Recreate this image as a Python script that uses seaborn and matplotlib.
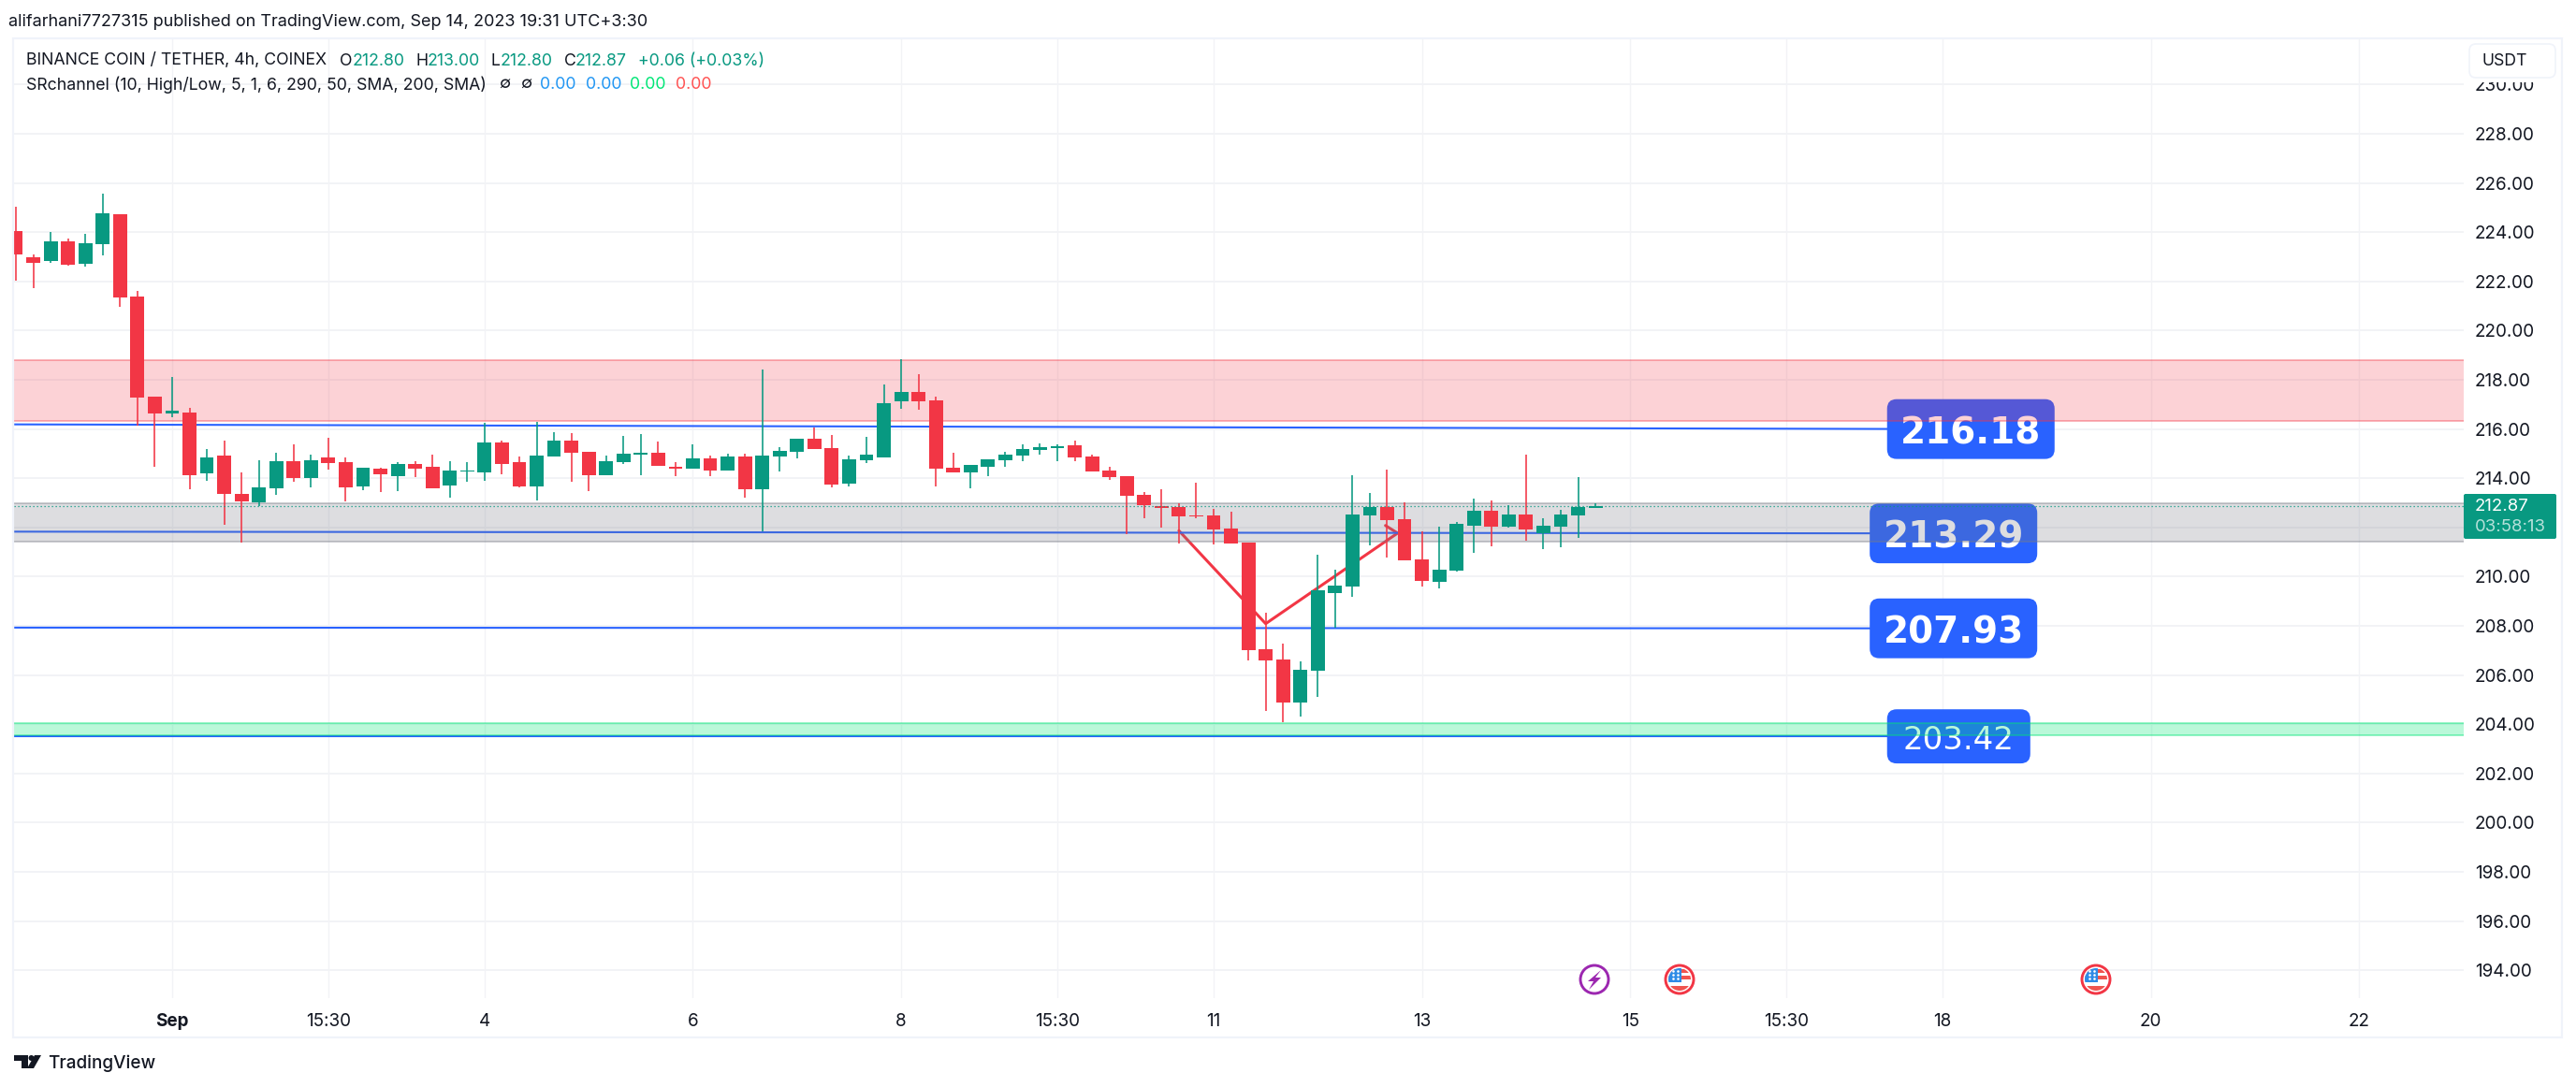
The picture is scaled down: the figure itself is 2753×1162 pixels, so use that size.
import numpy as np
import seaborn as sns
import matplotlib.pyplot as plt
from matplotlib.patches import Circle, FancyBboxPatch, Polygon, Rectangle

# candles, one per 4h bar
candle_open = [224.05, 222.98, 222.83, 223.63, 222.71, 223.51, 224.74, 221.39, 217.32, 216.63,
               216.67, 214.20, 214.92, 213.36, 213.02, 213.59, 214.69, 214.01, 214.85, 214.65,
               213.67, 214.39, 214.08, 214.58, 214.46, 213.70, 214.27, 214.24, 215.45, 214.65,
               213.67, 214.88, 215.53, 215.07, 214.12, 214.65, 214.96, 215.03, 214.46, 214.39,
               214.81, 214.31, 214.88, 213.55, 214.88, 215.07, 215.61, 215.23, 213.78, 214.73,
               214.85, 217.13, 217.51, 217.16, 214.43, 214.24, 214.46, 214.73, 214.92, 215.15,
               215.22, 215.34, 214.88, 214.31, 214.08, 213.32, 212.87, 212.83, 212.49, 212.49,
               211.96, 211.39, 207.05, 206.63, 204.89, 206.18, 209.33, 209.60, 212.49, 212.83,
               212.34, 210.70, 209.79, 210.25, 212.07, 212.68, 212.03, 212.53, 211.77, 212.03,
               212.49, 212.80]
candle_high = [225.03, 223.08, 224.01, 223.73, 223.92, 225.57, 224.74, 221.61, 217.32, 218.13,
               216.86, 215.19, 215.53, 214.24, 214.73, 215.03, 215.38, 214.96, 215.64, 214.85,
               214.43, 214.43, 214.65, 214.69, 214.96, 214.69, 214.65, 216.25, 215.53, 214.88,
               216.29, 215.87, 215.83, 215.07, 214.92, 215.72, 215.80, 215.49, 214.65, 215.38,
               214.92, 215.00, 215.00, 218.42, 215.26, 215.61, 216.06, 215.76, 214.92, 215.68,
               217.81, 218.84, 218.23, 217.32, 215.03, 214.54, 214.77, 215.07, 215.38, 215.41,
               215.38, 215.53, 214.96, 214.46, 214.08, 213.44, 213.55, 212.98, 213.82, 212.75,
               212.64, 211.39, 208.54, 207.28, 206.56, 210.89, 210.29, 214.13, 213.40, 214.35,
               213.02, 211.84, 212.03, 212.22, 213.17, 213.10, 212.91, 214.96, 212.38, 212.72,
               214.05, 213.00]
candle_low = [222.04, 221.72, 222.76, 222.65, 222.60, 223.06, 220.97, 216.15, 214.46, 216.48,
              213.55, 213.89, 212.11, 211.38, 212.87, 213.32, 213.86, 213.63, 214.35, 213.06,
              213.51, 213.44, 213.48, 214.05, 213.59, 213.21, 213.86, 213.89, 214.16, 213.63,
              213.10, 214.88, 213.86, 213.48, 214.12, 214.58, 214.12, 214.50, 214.08, 214.39,
              214.08, 214.31, 213.21, 211.84, 214.27, 214.81, 215.19, 213.63, 213.67, 214.62,
              214.85, 216.82, 216.78, 213.67, 214.24, 213.59, 214.08, 214.46, 214.69, 214.96,
              214.69, 214.69, 214.27, 213.93, 211.73, 212.37, 211.99, 211.35, 212.37, 211.31,
              211.35, 206.60, 204.54, 204.09, 204.32, 205.11, 207.93, 209.18, 211.27, 210.78,
              210.67, 209.60, 209.52, 210.21, 210.97, 211.24, 212.00, 211.46, 211.12, 211.20,
              211.58, 212.80]
candle_close = [223.08, 222.76, 223.63, 222.67, 223.56, 224.76, 221.36, 217.28, 216.63, 216.75,
                214.12, 214.85, 213.36, 213.06, 213.63, 214.69, 214.01, 214.73, 214.62, 213.63,
                214.43, 214.16, 214.58, 214.39, 213.59, 214.31, 214.31, 215.45, 214.58, 213.67,
                214.92, 215.53, 215.03, 214.12, 214.69, 215.00, 215.03, 214.50, 214.39, 214.81,
                214.31, 214.88, 213.55, 214.92, 215.11, 215.61, 215.19, 213.74, 214.77, 214.96,
                217.05, 217.51, 217.13, 214.39, 214.24, 214.54, 214.77, 214.96, 215.19, 215.26,
                215.30, 214.85, 214.27, 214.05, 213.29, 212.91, 212.79, 212.45, 212.45, 211.92,
                211.35, 207.01, 206.60, 204.89, 206.22, 209.45, 209.64, 212.53, 212.83, 212.30,
                210.67, 209.83, 210.29, 212.15, 212.68, 212.03, 212.53, 211.92, 212.07, 212.53,
                212.83, 212.87]

# drawn zones (low, high)
red_zone = (216.33, 218.80)
gray_zone = (211.42, 212.98)
green_zone = (203.57, 204.04)

# sr lines: left value, value at the label, label text
sr_left = [216.19, 211.83, 207.93, 203.51]
sr_right = [216.00, 211.76, 207.90, 203.51]
sr_labels = ['216.18', '213.29', '207.93', '203.42']

# hand drawn zigzag
zig_x = [67, 72, 79.6, 78.9]
zig_y = [211.87, 208.09, 211.77, 212.08]

last_price = 212.87

y_ticks = list(range(194, 232, 2))
x_tick_pos = [9, 18, 27, 39, 51, 60, 69, 81, 93, 102, 111, 123, 135]
x_tick_labels = ['Sep', '15:30', '4', '6', '8', '15:30', '11', '13', '15', '15:30', '18', '20', '22']

GREEN = '#089981'
RED = '#f23645'
BLUE = '#2962ff'
INK = '#131722'
LINE = '#f0f3fa'

sns.set_theme(style='white')
plt.rcParams['font.family'] = ['Inter', 'DejaVu Sans']

W, H = 2753, 1162
fig = plt.figure(figsize=(W / 100, H / 100), dpi=100, facecolor='white')
ax = fig.add_axes([15 / W, 1 - 1067 / H, (2633 - 15) / W, (1067 - 41) / H])

idx = np.arange(len(candle_open))
o = np.array(candle_open)
h = np.array(candle_high)
l = np.array(candle_low)
c = np.array(candle_close)
up = c >= o

# wicks and bodies
ax.vlines(idx[up], l[up], h[up], color=GREEN, lw=1.15, zorder=2.9)
ax.vlines(idx[~up], l[~up], h[~up], color=RED, lw=1.15, zorder=2.9)
for mask, col in [(up, GREEN), (~up, RED)]:
    sns.barplot(x=idx[mask], y=np.abs(c - o)[mask], bottom=np.minimum(o, c)[mask], native_scale=True,
                color=col, saturation=1, width=0.8, linewidth=0, errorbar=None, zorder=3, ax=ax)

# sr lines and their boxes sit under the zones
for y0, y1 in zip(sr_left, sr_right):
    ax.plot([-0.1, 110], [y0, y1], color=BLUE, lw=1.5, zorder=1.2, solid_capstyle='butt')
ax.plot(zig_x, zig_y, color=RED, lw=2.2, zorder=1.1, solid_capstyle='round')

label_boxes = [(107.8, 9.65, 2.43, 28, 'bold'), (106.8, 9.65, 2.43, 28, 'bold'),
               (106.8, 9.65, 2.43, 28, 'bold'), (107.8, 8.25, 2.2, 24.5, 'normal')]
for yv, txt, (x0, bw, bh, fs, fw) in zip(sr_right, sr_labels, label_boxes):
    ax.add_patch(FancyBboxPatch((x0, yv - bh / 2), bw, bh, boxstyle='round,pad=0,rounding_size=0.55',
                                mutation_aspect=18.55 / 26.3, fc=BLUE, ec='none', zorder=1.4))
    ax.text(x0 + bw / 2, yv - 0.02, txt, color='white', fontsize=fs, fontweight=fw, family='DejaVu Sans',
            ha='center', va='center_baseline', zorder=1.5)

for (lo, hi), col, a in [(red_zone, RED, 0.22), (gray_zone, '#787b86', 0.25), (green_zone, '#00e676', 0.27)]:
    ax.axhspan(lo, hi, color=col, alpha=a, lw=0, zorder=2)
    ax.axhline(lo, color=col, alpha=a + 0.15, lw=1.4, zorder=2)
    ax.axhline(hi, color=col, alpha=a + 0.15, lw=1.4, zorder=2)

ax.axhline(last_price, color=GREEN, lw=0.9, ls=(0, (1, 2.2)), zorder=4)

ax.set_xlim(-0.108, 141.02)
ax.set_ylim(192.87, 231.88)
ax.set_xticks(x_tick_pos)
ax.set_xticklabels(x_tick_labels)
ax.set_yticks(y_ticks)
# the last price tag takes the place of the 212 label
ax.set_yticklabels(['' if v == 212 else f'{v:.2f}' for v in y_ticks])
ax.yaxis.tick_right()
ax.set_xlabel('')
ax.set_ylabel('')
ax.set_axisbelow(True)
ax.grid(True, axis='y', color='#f2f3f6', lw=1.4)
ax.grid(True, axis='x', color='#f2f3f6', lw=1.0)
ax.tick_params(axis='y', length=0, pad=8.6, labelsize=13.6, labelcolor=INK)
ax.tick_params(axis='x', length=0, pad=11.5, labelsize=13.6, labelcolor=INK)
ax.xaxis.get_ticklabels()[0].set_fontweight('bold')
for s in ax.spines.values():
    s.set_visible(False)

# chrome in pixel coordinates
ov = fig.add_axes([0, 0, 1, 1], zorder=5)
ov.set_xlim(0, W)
ov.set_ylim(H, 0)
ov.axis('off')
ov.patch.set_alpha(0)


def put(x, y, s, col=INK, fs=12.75, **kw):
    ov.text(x, y, s, color=col, fontsize=fs, ha='left', va='center', **kw)


ov.add_patch(Rectangle((14, 41), 2738 - 14, 1109 - 41, fill=False, ec=LINE, lw=1.6))
put(9, 24, 'alifarhani7727315 published on TradingView.com, Sep 14, 2023 19:31 UTC+3:30', fs=13)

legend_top = [(27.5, 'BINANCE COIN / TETHER, 4h, COINEX', INK), (363, 'O', INK), (376.6, '212.80', GREEN),
              (444, 'H', INK), (457, '213.00', GREEN), (525, 'L', INK), (535, '212.80', GREEN),
              (603, 'C', INK), (615, '212.87', GREEN), (681.5, '+0.06 (+0.03%)', GREEN)]
for x, s, col in legend_top:
    put(x, 65, s, col)
legend_sr = [(27.5, 'SRchannel (10, High/Low, 5, 1, 6, 290, 50, SMA, 200, SMA)', INK), (533, '∅', INK), (556, '∅', INK),
             (577.5, '0.00', '#2196f3'), (626, '0.00', '#2196f3'), (673, '0.00', '#00e676'), (722, '0.00', '#ff5252')]
for x, s, col in legend_sr:
    put(x, 90.7, s, col)

# currency button hides the top of the 230 label
ov.add_patch(Rectangle((2634, 80), 100, 8, fc='white', ec='none'))
ov.add_patch(FancyBboxPatch((2639, 47), 92, 36, boxstyle='round,pad=0,rounding_size=7', fc='white', ec=LINE, lw=1.2))
put(2653, 65, 'USDT')

# last price tag
ov.add_patch(FancyBboxPatch((2633, 528), 99, 48, boxstyle='round,pad=0,rounding_size=2', fc=GREEN, ec='none'))
put(2645, 541.5, '212.87', 'white', fs=13.4)
put(2645, 563, '03:58:13', 'white', fs=13.4, alpha=0.7)

# event markers on the bottom of the pane
ov.add_patch(Circle((1704, 1047), 15, fc='white', ec='#9c27b0', lw=2.1))
ov.add_patch(Polygon([(1711, 1037), (1697, 1049), (1703, 1049), (1698, 1058), (1711, 1045), (1705, 1045)], fc='#9c27b0', ec='none'))
for cx in [1795, 2240]:
    ov.add_patch(Circle((cx, 1047), 15, fc='white', ec=RED, lw=2.1))
    clip = Circle((cx, 1047), 12, transform=ov.transData)
    for top, ht in [(1036, 3.5), (1043, 3.5), (1053.5, 6)]:
        ov.add_patch(Rectangle((cx - 13, top), 26, ht, fc='#f0544f', ec='none', clip_path=clip))
    ov.add_patch(Rectangle((cx - 13, 1035), 15, 15, fc='#2f8be6', ec='none', clip_path=clip))
    ov.scatter([cx - 7, cx - 2, cx - 7, cx - 2, cx - 7, cx - 2], [1038, 1038, 1042, 1042, 1046, 1046], s=3.5, c='white', lw=0)

# logo
ov.add_patch(Polygon([(15, 1128), (30, 1128), (30, 1142), (23, 1142), (23, 1134), (15, 1134)], fc=INK, ec='none'))
ov.add_patch(Polygon([(37, 1128), (44, 1128), (36, 1142), (29, 1142)], fc=INK, ec='none'))
ov.add_patch(Circle((33.5, 1131), 3, fc=INK, ec='none'))
put(51, 1137, 'TradingView', fs=13.6, fontweight='medium')

fig.savefig('out.png', dpi=100)
